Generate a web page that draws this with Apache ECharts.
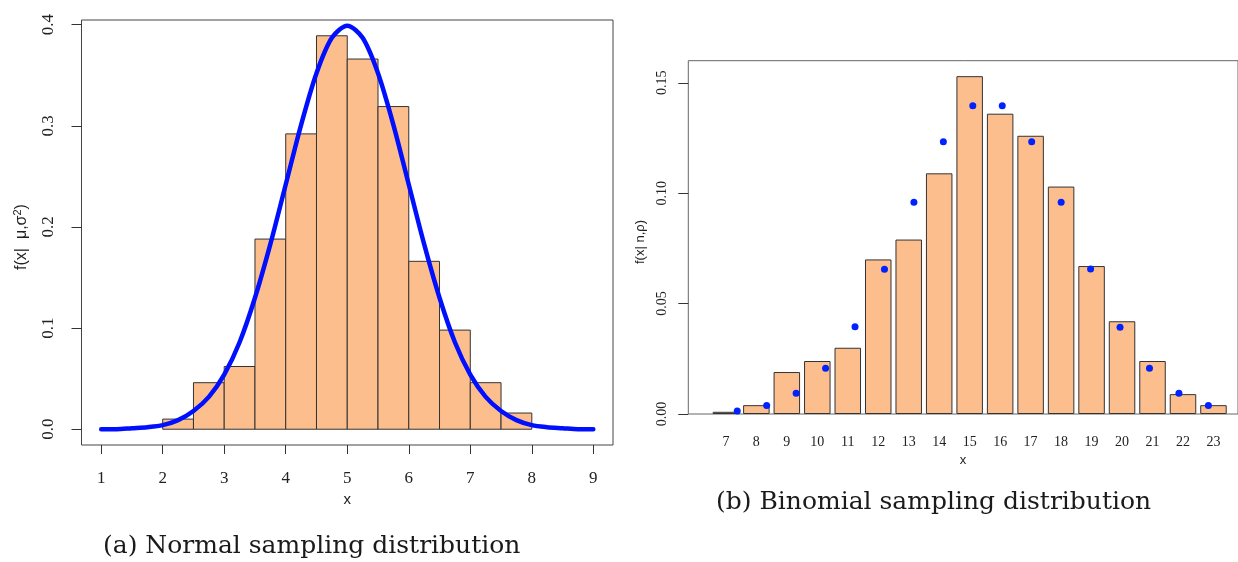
<!DOCTYPE html>
<html>
<head>
<meta charset="utf-8">
<script src="https://cdn.jsdelivr.net/npm/echarts@6/dist/echarts.min.js"></script>
<style>
  html, body { margin: 0; padding: 0; background: #fff; }
  #chart { width: 1238px; height: 562px; }
</style>
</head>
<body>
<div id="chart"></div>
<script>
// (a) normal: histogram bins (width 0.5) and density curve
const binStart = [2, 2.5, 3, 3.5, 4, 4.5, 5, 5.5, 6, 6.5, 7, 7.5]
const binDensity = [0.010, 0.046, 0.062, 0.188, 0.292, 0.389, 0.366, 0.319, 0.166, 0.098, 0.046, 0.016]
const binWidth = 0.5
const curveX = [1, 1.25, 1.5, 1.75, 2, 2.25, 2.5, 2.75, 3, 3.25, 3.5, 3.75, 4, 4.25, 4.5, 4.75, 5,
  5.25, 5.5, 5.75, 6, 6.25, 6.5, 6.75, 7, 7.25, 7.5, 7.75, 8, 8.25, 8.5, 8.75, 9]
const curveY = [0.000, 0.000, 0.001, 0.002, 0.004, 0.009, 0.018, 0.032, 0.054, 0.086, 0.130, 0.183, 0.242, 0.301, 0.352, 0.387, 0.399,
  0.387, 0.352, 0.301, 0.242, 0.183, 0.130, 0.086, 0.054, 0.032, 0.018, 0.009, 0.004, 0.002, 0.001, 0.000, 0.000]
const normXTicks = [1, 2, 3, 4, 5, 6, 7, 8, 9]
const normYTicks = [0, 0.1, 0.2, 0.3, 0.4]

// (b) binomial: sampled frequencies (bars) and exact pmf (dots)
const binomX = [7, 8, 9, 10, 11, 12, 13, 14, 15, 16, 17, 18, 19, 20, 21, 22, 23]
const binomBars = [0.001, 0.004, 0.019, 0.024, 0.030, 0.070, 0.079, 0.109, 0.153, 0.136, 0.126, 0.103, 0.067, 0.042, 0.024, 0.009, 0.004]
const binomDots = [0.0014, 0.0038, 0.0094, 0.0207, 0.0395, 0.0656, 0.0959, 0.1233, 0.1396, 0.1396, 0.1233, 0.0959, 0.0657, 0.0393, 0.0207, 0.0094, 0.0038]
const binomYTicks = [0, 0.05, 0.10, 0.15]

const chart = echarts.init(document.getElementById('chart'))

const serif = "'Liberation Serif', serif"
const sans = "'Liberation Sans', sans-serif"
const caption = "25px 'DejaVu Serif', serif"
const peach = '#FDBE8E'

const option = {
  backgroundColor: '#fff',
  animation: false,
  grid: [
    { left: 81.5, top: 20, width: 531.5, height: 425, show: true, borderColor: '#444', borderWidth: 1 },
    { left: 688.3, top: 60.7, width: 562, height: 353.3, show: true, borderColor: '#666', borderWidth: 1 }
  ],
  xAxis: [
    {
      gridIndex: 0, type: 'value', min: 0.68, max: 9.32,
      axisLine: { show: false, onZero: false },
      splitLine: { show: false },
      axisTick: { show: true, inside: false, length: 9, customValues: normXTicks, lineStyle: { color: '#333' } },
      axisLabel: { customValues: normXTicks, fontFamily: serif, fontSize: 17, color: '#222', margin: 25 },
      name: 'x', nameLocation: 'middle', nameGap: 47,
      nameTextStyle: { fontFamily: sans, fontSize: 15, color: '#222' }
    },
    {
      gridIndex: 1, type: 'value', min: 5.767, max: 23.805,
      axisLine: { show: false, onZero: false },
      splitLine: { show: false },
      axisTick: { show: false },
      axisLabel: { customValues: binomX, fontFamily: serif, fontSize: 14, color: '#222', margin: 21 }
    },
    {
      gridIndex: 1, type: 'value', min: 5.338, max: 24.006, show: false,
      axisLine: { onZero: false }
    }
  ],
  yAxis: [
    {
      gridIndex: 0, type: 'value', min: -0.0156, max: 0.4046,
      axisLine: { show: false, onZero: false },
      splitLine: { show: false },
      axisTick: { show: true, inside: false, length: 10, customValues: normYTicks, lineStyle: { color: '#333' } },
      axisLabel: {
        customValues: normYTicks, rotate: 90, fontFamily: serif, fontSize: 17, color: '#222', margin: 24,
        formatter: v => v.toFixed(1)
      }
    },
    {
      gridIndex: 1, type: 'value', min: 0, max: 0.16,
      axisLine: { show: false, onZero: false },
      splitLine: { show: false },
      axisTick: { show: true, inside: false, length: 10, customValues: binomYTicks, lineStyle: { color: '#333' } },
      axisLabel: {
        customValues: binomYTicks, rotate: 90, fontFamily: serif, fontSize: 14, color: '#222', margin: 19,
        formatter: v => v.toFixed(2)
      }
    }
  ],
  graphic: [
    {
      type: 'text', x: 22, y: 237, rotation: Math.PI / 2,
      style: {
        text: '{b|f(x|  μ,σ}{s|2}{b|)}',
        align: 'center', verticalAlign: 'middle', fill: '#222',
        rich: {
          b: { fontFamily: sans, fontSize: 16, lineHeight: 20, fill: '#222' },
          s: { fontFamily: sans, fontSize: 11, lineHeight: 20, verticalAlign: 'top', fill: '#222' }
        }
      }
    },
    {
      type: 'text', x: 640, y: 242, rotation: Math.PI / 2,
      style: { text: 'f(x| n,ρ)', font: '13px ' + sans, align: 'center', verticalAlign: 'middle', fill: '#222' }
    },
    {
      type: 'text', x: 963, y: 460,
      style: { text: 'x', font: '13px ' + sans, align: 'center', verticalAlign: 'middle', fill: '#222' }
    },
    {
      type: 'text', x: 103, y: 546,
      style: { text: '(a) Normal sampling distribution', font: caption, align: 'left', verticalAlign: 'middle', fill: '#1a1a1a' }
    },
    {
      type: 'text', x: 716, y: 502,
      style: { text: '(b) Binomial sampling distribution', font: caption, align: 'left', verticalAlign: 'middle', fill: '#1a1a1a' }
    }
  ],
  series: [
    {
      type: 'custom',
      xAxisIndex: 0, yAxisIndex: 0,
      data: binStart.map((s, i) => [s, s + binWidth, binDensity[i]]),
      encode: { x: [0, 1], y: 2 },
      renderItem: (params, api) => {
        const p0 = api.coord([api.value(0), api.value(2)])
        const p1 = api.coord([api.value(1), 0])
        return {
          type: 'rect',
          shape: { x: p0[0], y: p0[1], width: p1[0] - p0[0], height: p1[1] - p0[1] },
          style: { fill: peach, stroke: '#333', lineWidth: 1 }
        }
      },
      z: 1
    },
    {
      type: 'line',
      xAxisIndex: 0, yAxisIndex: 0,
      data: curveX.map((x, i) => [x, curveY[i]]),
      smooth: 0.3,
      showSymbol: false,
      symbol: 'none',
      lineStyle: { color: '#0010FF', width: 4.5, cap: 'round' },
      z: 3
    },
    {
      type: 'bar',
      xAxisIndex: 1, yAxisIndex: 1,
      data: binomX.map((x, i) => [x, binomBars[i]]),
      barWidth: 26.5,
      itemStyle: { color: peach, borderColor: '#333', borderWidth: 1 },
      z: 1
    },
    {
      type: 'scatter',
      xAxisIndex: 2, yAxisIndex: 1,
      data: binomX.map((x, i) => [x, binomDots[i]]),
      symbolSize: 7,
      itemStyle: { color: '#0022FF', opacity: 1 },
      z: 3
    }
  ]
}

chart.setOption(option)
</script>
</body>
</html>
